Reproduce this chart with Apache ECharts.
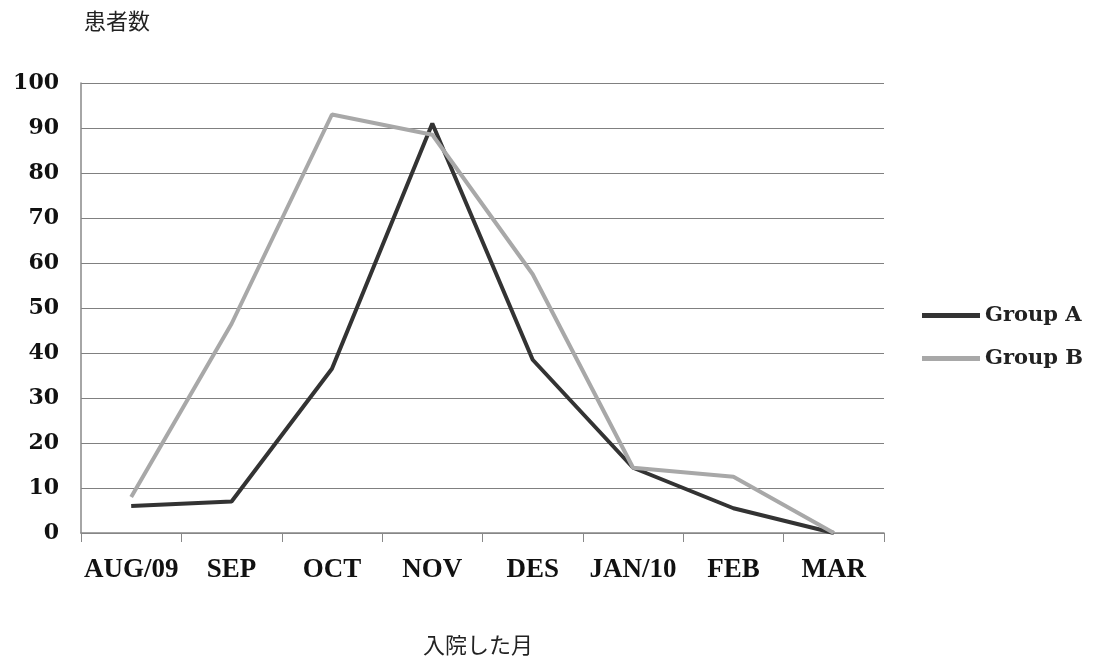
<!DOCTYPE html>
<html><head><meta charset="utf-8">
<script src="https://cdn.jsdelivr.net/npm/echarts@6/dist/echarts.min.js"></script>
<style>html,body{margin:0;padding:0;background:#fff}#c{width:1097px;height:665px}</style>
</head><body><div id="c"></div>
<script>
const categories = ['AUG/09','SEP','OCT','NOV','DES','JAN/10','FEB','MAR'];
const groupA = [6, 7, 36.5, 91, 38.5, 14.5, 5.5, 0];
const groupB = [8, 46.5, 93, 88.5, 57.5, 14.5, 12.5, 0];
const yTitle = '患者数';
const xTitle = '入院した月';

const chart = echarts.init(document.getElementById('c'), null, {renderer:'canvas'});
chart.setOption({
  backgroundColor:'#fff',
  animation:false,
  grid:{left:81, right:213, top:83, bottom:132},
  graphic:[
    {type:'text', left:84, top:10, style:{text:yTitle, font:'22px "Noto Sans CJK JP"', fill:'#222'}},
    {type:'text', left:423, top:634, style:{text:xTitle, font:'22px "Noto Sans CJK JP"', fill:'#222'}}
  ],
  legend:{
    orient:'vertical', left:922, top:305, padding:0,
    icon:'rect', itemWidth:58, itemHeight:5, itemGap:22,
    textStyle:{fontFamily:'DejaVu Serif', fontWeight:'bold', fontSize:21, color:'#222'},
    data:['Group A','Group B']
  },
  xAxis:{
    type:'category', data:categories, boundaryGap:true,
    axisLine:{lineStyle:{color:'#888', width:1.5}},
    axisTick:{show:true, length:9, lineStyle:{color:'#888'}},
    axisLabel:{interval:0, fontFamily:'Liberation Serif', fontWeight:'bold', fontSize:27, color:'#111', margin:24}
  },
  yAxis:{
    type:'value', min:0, max:100, interval:10,
    axisLine:{show:true, lineStyle:{color:'#888', width:1.5}},
    axisTick:{show:false},
    splitLine:{lineStyle:{color:'#808080', width:1.2}},
    axisLabel:{fontFamily:'DejaVu Serif', fontWeight:'bold', fontSize:22, color:'#111', margin:22}
  },
  series:[
    {name:'Group A', type:'line', data:groupA, symbol:'none', lineStyle:{color:'#333', width:4}, itemStyle:{color:'#333'}},
    {name:'Group B', type:'line', data:groupB, symbol:'none', lineStyle:{color:'#a8a8a8', width:4}, itemStyle:{color:'#a8a8a8'}}
  ]
});
</script></body></html>
